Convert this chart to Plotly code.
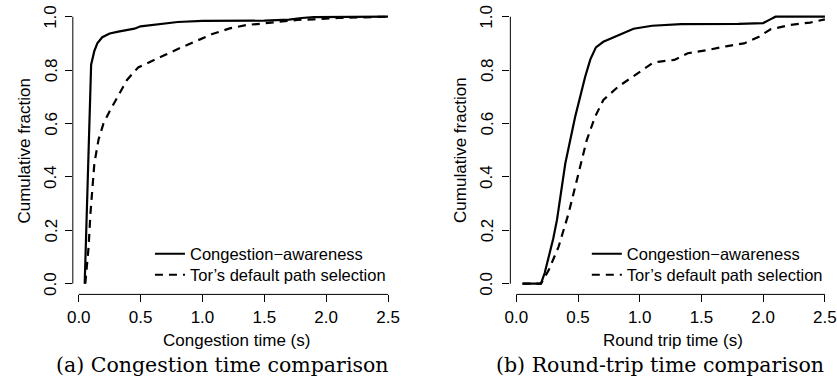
import plotly.graph_objects as go

# ---- data: (a) congestion time CDF ----
ca_x = [0.048, 0.10, 0.125, 0.15, 0.19, 0.25, 0.32, 0.40, 0.45, 0.50, 0.62, 0.80, 1.0, 1.5, 1.70, 1.80, 1.90, 2.5]
ca_y = [0.0, 0.82, 0.87, 0.90, 0.923, 0.937, 0.944, 0.950, 0.955, 0.964, 0.970, 0.980, 0.984, 0.985, 0.989, 0.995, 0.998, 1.0]
tor_x = [0.053, 0.08, 0.094, 0.107, 0.126, 0.16, 0.20, 0.254, 0.32, 0.39, 0.48, 0.59, 0.70, 0.83, 0.95,
         1.08, 1.22, 1.36, 1.50, 1.63, 1.77, 1.90, 2.1, 2.5]
tor_y = [0.0, 0.14, 0.26, 0.35, 0.45, 0.54, 0.60, 0.65, 0.707, 0.763, 0.81, 0.835, 0.857, 0.885, 0.91,
         0.935, 0.956, 0.969, 0.975, 0.981, 0.988, 0.99, 0.995, 1.0]

# ---- data: (b) round-trip time CDF ----
ca2_x = [0.05, 0.20, 0.23, 0.263, 0.30, 0.33, 0.397, 0.477, 0.558, 0.60, 0.645, 0.705, 0.80, 0.87, 0.95,
         1.1, 1.335, 1.8, 2.0, 2.05, 2.10, 2.5]
ca2_y = [0.0, 0.0, 0.04, 0.10, 0.17, 0.24, 0.45, 0.625, 0.775, 0.84, 0.885, 0.906, 0.925, 0.94, 0.955,
         0.966, 0.972, 0.973, 0.976, 0.988, 1.0, 1.0]
tor2_x = [0.05, 0.20, 0.263, 0.343, 0.424, 0.504, 0.571, 0.638, 0.705, 0.826, 0.987, 1.10, 1.148, 1.28,
          1.39, 1.55, 1.71, 1.845, 1.966, 2.06, 2.22, 2.38, 2.5]
tor2_y = [0.0, 0.0, 0.051, 0.139, 0.264, 0.41, 0.538, 0.625, 0.688, 0.738, 0.788, 0.825, 0.831, 0.838,
          0.863, 0.875, 0.89, 0.90, 0.925, 0.953, 0.969, 0.978, 0.99]

series_names = ["Congestion\u2212awareness", "Tor\u2019s default path selection"]
x_ticks = [0, 0.5, 1.0, 1.5, 2.0, 2.5]
y_ticks = [0, 0.2, 0.4, 0.6, 0.8, 1.0]
x_titles = ["Congestion time (s)", "Round trip time (s)"]
y_title = "Cumulative fraction"
captions = ["(a) Congestion time comparison", "(b) Round-trip time comparison"]

W, H = 837, 376
SANS = "Liberation Sans, Arial, sans-serif"
FS = 17
LW = 2.2
DASH = "8px,6px"

fig = go.Figure()

panels = [
    dict(xa="x", ya="y", legs=["legend", "legend2"], data=[(ca_x, ca_y), (tor_x, tor_y)]),
    dict(xa="x2", ya="y2", legs=["legend3", "legend4"], data=[(ca2_x, ca2_y), (tor2_x, tor2_y)]),
]
for p in panels:
    for i, (xs, ys) in enumerate(p["data"]):
        fig.add_trace(go.Scatter(
            x=xs, y=ys, mode="lines", name=series_names[i],
            xaxis=p["xa"], yaxis=p["ya"], legend=p["legs"][i],
            line=dict(color="black", width=LW, dash=None if i == 0 else DASH),
        ))

xr = [-0.048, 2.598]
yr = [-0.04, 1.04]
ydom = [(H - 294.4) / H, (H - 6.0) / H]
xdoms = [[67.3 / W, 397.0 / W], [508.0 / W, 1.0]]

common_x = dict(range=xr, tickmode="array", tickvals=x_ticks, tickformat=".1f",
                ticks="outside", ticklen=7, tickwidth=1, tickcolor="black",
                showgrid=False, zeroline=False, showline=False,
                tickfont=dict(family=SANS, size=FS, color="black"), fixedrange=True)
common_y = dict(range=yr, tickmode="array", tickvals=y_ticks,
                ticks="outside", ticklen=7, tickwidth=1, tickcolor="black",
                showgrid=False, zeroline=False, showline=False, showticklabels=False,
                fixedrange=True)

fig.update_layout(
    xaxis=dict(domain=xdoms[0], anchor="y", **common_x),
    yaxis=dict(domain=ydom, anchor="x", **common_y),
    xaxis2=dict(domain=xdoms[1], anchor="y2", **common_x),
    yaxis2=dict(domain=ydom, anchor="x2", **common_y),
)

# R-style axis lines spanning only the tick range
shapes = []
for xa, ya in [("x", "y"), ("x2", "y2")]:
    shapes.append(dict(type="line", xref=xa, yref=ya + " domain", x0=0, x1=2.5, y0=0, y1=0,
                       line=dict(color="black", width=1)))
    shapes.append(dict(type="line", xref=xa + " domain", yref=ya, x0=0, x1=0, y0=0, y1=1,
                       line=dict(color="black", width=1)))

annotations = []
x_title_px = [232, 672]
y_title_px = [18.5, 457]
y_ticklab_px = [45.5, 484.5]
caption_px = [218, 659]
yrefs = ["y", "y2"]
for k in range(2):
    annotations.append(dict(text=x_titles[k], xref="paper", yref="paper",
                            x=x_title_px[k] / W, y=1 - 340.5 / H, xanchor="center", yanchor="middle",
                            showarrow=False, font=dict(family=SANS, size=FS, color="black")))
    annotations.append(dict(text=y_title, xref="paper", yref="paper", textangle=-90,
                            x=y_title_px[k] / W, y=1 - 150.2 / H, xanchor="center", yanchor="middle",
                            showarrow=False, font=dict(family=SANS, size=FS, color="black")))
    annotations.append(dict(text=captions[k], xref="paper", yref="paper",
                            x=caption_px[k] / W, y=1 - 365 / H, xanchor="center", yanchor="middle",
                            showarrow=False, font=dict(family="DejaVu Serif, serif", size=20.5, color="black")))
    for v in y_ticks:
        annotations.append(dict(text=f"{v:.1f}", xref="paper", yref=yrefs[k], textangle=-90,
                                x=y_ticklab_px[k] / W, y=v, xanchor="center", yanchor="middle",
                                showarrow=False, font=dict(family=SANS, size=FS, color="black")))

leg_common = dict(bgcolor="rgba(0,0,0,0)", borderwidth=0, xanchor="left", yanchor="middle",
                  font=dict(family=SANS, size=16.5, color="black"))
leg_x = [145, 585]
row_y = [254, 275]
fig.update_layout(
    legend=dict(x=leg_x[0] / W, y=1 - row_y[0] / H, **leg_common),
    legend2=dict(x=leg_x[0] / W, y=1 - row_y[1] / H, **leg_common),
    legend3=dict(x=leg_x[1] / W, y=1 - row_y[0] / H, **leg_common),
    legend4=dict(x=leg_x[1] / W, y=1 - row_y[1] / H, **leg_common),
    shapes=shapes,
    annotations=annotations,
    width=W, height=H,
    margin=dict(l=0, r=0, t=0, b=0),
    paper_bgcolor="white", plot_bgcolor="white",
    showlegend=True,
)

fig.write_html("out.html", config={"displayModeBar": False},
               post_script="document.body.style.margin='0';document.body.style.padding='0';"
                           "document.body.style.overflow='hidden';")
